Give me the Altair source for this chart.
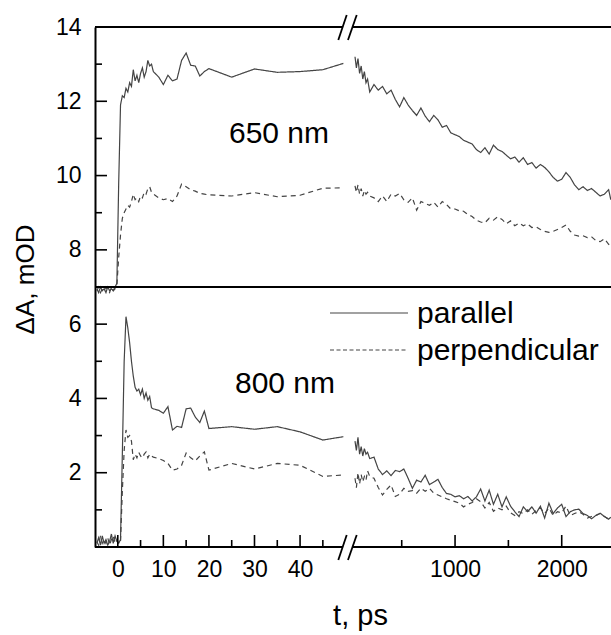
import altair as alt
import pandas as pd

# ---------------- data ----------------
t_left = [-4.6, -4.2, -3.8, -3.4, -3.0, -2.6, -2.2, -1.8, -1.4, -1.0, -0.6, -0.2,
          0.2, 0.6, 1.0, 1.4, 1.8, 2.2, 2.6, 3.0, 3.4, 3.8, 4.2, 4.6, 5.0, 5.4,
          5.8, 6.2, 6.6, 7.0, 7.4, 7.8,
          9, 10, 11, 12, 13, 14, 15, 16, 17, 18, 19, 20,
          25, 30, 35, 40, 45, 49.5]

a650_par_left = [6.95, 6.85, 7.0, 6.9, 6.95, 6.85, 7.0, 6.9, 6.95, 6.9, 7.0, 7.1,
                 9.8, 11.9, 12.15, 12.1, 12.35, 12.25, 12.5, 12.4, 12.85, 12.55, 12.7, 12.5,
                 12.75, 12.9, 12.65, 12.8, 13.1, 12.95, 13.0, 12.8,
                 12.65, 12.45, 12.7, 12.55, 12.6, 13.1, 13.3, 12.97, 12.95, 12.68, 12.8, 12.88,
                 12.65, 12.87, 12.78, 12.8, 12.85, 13.02]
a650_perp_left = [6.9, 7.0, 6.85, 6.95, 6.9, 7.0, 6.9, 6.85, 7.0, 6.9, 6.95, 7.05,
                  7.8, 8.4, 8.85, 9.0, 9.1, 9.2, 9.15, 9.3, 9.5, 9.35, 9.4, 9.3,
                  9.45, 9.4, 9.55, 9.5, 9.65, 9.7, 9.55, 9.5,
                  9.4, 9.35, 9.38, 9.3, 9.45, 9.77, 9.7, 9.62, 9.58, 9.52, 9.5, 9.48,
                  9.45, 9.54, 9.43, 9.47, 9.66, 9.67]
a800_par_left = [0.1, 0.25, 0.05, 0.3, 0.1, 0.2, 0.05, 0.15, 0.35, 0.1, 0.3, 0.15,
                 0.1, 0.2, 2.5, 5.0, 6.2, 5.9, 5.5, 5.0, 4.6, 4.3, 4.2, 4.25,
                 4.1, 4.25, 4.0, 4.15, 3.95, 4.05, 3.75, 3.72,
                 3.68, 3.6, 3.78, 3.15, 3.25, 3.22, 3.72, 3.74, 3.5, 3.35, 3.66, 3.19,
                 3.24, 3.17, 3.24, 3.1, 2.88, 2.97]
a800_perp_left = [0.15, 0.05, 0.3, 0.1, 0.2, 0.1, 0.25, 0.05, 0.2, 0.3, 0.1, 0.2,
                  0.1, 0.15, 1.5, 2.6, 3.15, 2.95, 3.0, 2.85, 2.35, 2.5, 2.4, 2.55,
                  2.45, 2.4, 2.5, 2.56, 2.4, 2.5, 2.45, 2.42,
                  2.38, 2.33, 2.25, 2.07, 2.1, 2.2, 2.53, 2.4, 2.32, 2.45, 2.56, 2.07,
                  2.25, 2.1, 2.25, 2.2, 1.9, 1.94]

t_right = [62, 75, 90, 105, 120, 135, 150, 165, 180,
           200, 240, 280, 320, 360, 400, 440, 480, 520, 560, 600, 640, 680, 720,
           760, 800, 840, 880, 920, 960, 1000, 1040, 1080, 1120, 1160, 1200, 1240,
           1280, 1320, 1360, 1400, 1440, 1480, 1520, 1560, 1600, 1640, 1680, 1720,
           1760, 1800, 1840, 1880, 1920, 1960, 2000, 2040, 2080, 2120, 2160, 2200,
           2240, 2280, 2320, 2360, 2400, 2440, 2460]

a650_par_right = [13.2, 12.9, 13.15, 12.75, 12.95, 12.6, 12.8, 12.5, 12.6,
                  12.25, 12.45, 12.3, 12.4, 12.2, 12.3, 12.05, 11.85, 12.1, 11.9, 11.75, 11.62, 11.82, 11.6,
                  11.45, 11.62, 11.5, 11.3, 11.35, 11.15, 11.1, 11.05, 10.95, 10.9, 10.85, 10.7, 10.62,
                  10.75, 10.58, 10.82, 10.7, 10.65, 10.55, 10.45, 10.5, 10.36, 10.48, 10.3, 10.35,
                  10.2, 10.3, 10.22, 10.1, 9.95, 9.85, 9.9, 10.08, 9.95, 9.75, 9.62, 9.7,
                  9.6, 9.65, 9.55, 9.45, 9.5, 9.62, 9.35]
a650_perp_right = [9.72, 9.55, 9.75, 9.5, 9.65, 9.45, 9.6, 9.5, 9.55,
                   9.45, 9.4, 9.3, 9.45, 9.3, 9.5, 9.45, 9.52, 9.35, 9.28, 9.4, 9.07, 9.3, 9.25,
                   9.2, 9.28, 9.15, 9.3, 9.22, 9.1, 9.1, 9.05, 9.04, 8.95, 8.9, 8.8, 8.75,
                   8.73, 8.85, 8.8, 8.89, 8.82, 8.7, 8.78, 8.65, 8.72, 8.65, 8.7, 8.6,
                   8.62, 8.55, 8.5, 8.47, 8.5, 8.55, 8.6, 8.67, 8.5, 8.4, 8.37, 8.38,
                   8.33, 8.35, 8.25, 8.22, 8.3, 8.15, 8.1]
a800_par_right = [2.85, 2.6, 2.95, 2.5, 2.7, 2.45, 2.65, 2.5, 2.55,
                  2.38, 2.42, 2.1, 1.95, 2.05, 1.92, 2.06, 2.03, 2.1, 1.85, 1.58, 1.8, 1.75, 1.93,
                  1.68, 1.75, 1.82, 1.6, 1.44, 1.42, 1.35, 1.38, 1.3, 1.36, 1.24, 1.35, 1.56,
                  1.24, 1.53, 1.15, 1.42, 1.08, 1.35, 1.1, 0.95, 0.82, 1.08, 0.95, 1.08,
                  0.91, 1.1, 0.78, 1.18, 0.9, 1.05, 1.15, 0.82, 0.95, 1.0, 1.02, 0.9,
                  0.85, 0.76, 0.85, 0.91, 0.82, 0.75, 0.8]
a800_perp_right = [1.85, 1.6, 2.0, 1.7, 1.95, 1.75, 1.9, 1.8, 2.05,
                   1.9, 1.85, 1.6, 1.4, 1.55, 1.67, 1.36, 1.42, 1.58, 1.5, 1.52, 1.45, 1.58, 1.5,
                   1.58, 1.45, 1.4, 1.35, 1.3, 1.26, 1.22, 1.18, 1.08, 1.15, 1.2, 1.3, 1.22,
                   1.05, 1.2, 0.96, 1.05, 1.0, 1.1, 0.92, 0.85, 0.95, 0.9, 1.0, 0.88,
                   0.98, 1.05, 0.9, 1.05, 0.85, 0.95, 0.92, 1.1, 0.85, 0.9, 0.95, 0.88,
                   0.78, 0.82, 0.85, 0.9, 0.82, 0.75, 0.8]

series = [
    ("650", "parallel", "L", t_left, a650_par_left),
    ("650", "perpendicular", "L", t_left, a650_perp_left),
    ("800", "parallel", "L", t_left, a800_par_left),
    ("800", "perpendicular", "L", t_left, a800_perp_left),
    ("650", "parallel", "R", t_right, a650_par_right),
    ("650", "perpendicular", "R", t_right, a650_perp_right),
    ("800", "parallel", "R", t_right, a800_par_right),
    ("800", "perpendicular", "R", t_right, a800_perp_right),
]
rows = []
for wl, pol, seg_, ts, vs in series:
    assert len(ts) == len(vs), (wl, pol, seg_, len(ts), len(vs))
    for t, v in zip(ts, vs):
        rows.append({"t": t, "A": v, "pol": pol, "key": f"{wl}-{pol}-{seg_}"})
df = pd.DataFrame(rows)

x_major = [0, 10, 20, 30, 40, 1000, 2000]
x_minor = [5, 15, 25, 35, 45, 500, 1500]
y_major = [2, 4, 6, 8, 10, 12, 14]
y_minor = [1, 3, 5, 9, 11, 13]

# ---------------- layout ----------------
W, H = 516, 520
FONT = "Liberation Sans"
INK = "#000000"
LINE = "#444444"

# broken time axis: piecewise linear scale (left segment -5..50 ps, right segment up to ~2460 ps)
xscale = alt.Scale(domain=[-5, 50.3, 62, 2462], range=[0, 252, 260, 516], zero=False, nice=False)
yscale = alt.Scale(domain=[0, 14], zero=False, nice=False)

x_axis = alt.Axis(values=x_major, format="d", ticks=False, tickSize=0, domain=False,
                  grid=False, labelPadding=11, labelFontSize=23, labelFont=FONT,
                  labelColor=INK, labelFlush=False, labelOverlap=False,
                  title="t, ps", titleFont=FONT, titleFontSize=29, titleFontWeight="normal",
                  titleColor=INK, titleX=265, titleY=68, titleAlign="center",
                  titleBaseline="middle")
y_axis = alt.Axis(values=y_major, format="d", ticks=False, tickSize=0, domain=True,
                  domainColor=INK, domainWidth=2, grid=False, labelPadding=14,
                  labelFontSize=23, labelFont=FONT, labelColor=INK, labelFlush=False,
                  labelOverlap=False,
                  title="ΔA, mOD", titleFont=FONT, titleFontSize=26,
                  titleFontWeight="normal", titleColor=INK, titleX=-70, titleY=252,
                  titleAngle=270, titleAlign="center", titleBaseline="middle")

dummy = pd.DataFrame({"d": [0]})

lines = alt.Chart(df).mark_line(strokeWidth=1.2, color=LINE, clip=True).encode(
    x=alt.X("t:Q", scale=xscale, axis=x_axis),
    y=alt.Y("A:Q", scale=yscale, axis=y_axis),
    strokeDash=alt.StrokeDash("pol:N",
                              scale=alt.Scale(domain=["parallel", "perpendicular"],
                                              range=[[1, 0], [5, 4]]),
                              legend=None),
    detail="key:N",
)

def tick_x(vals, length):
    return alt.Chart(pd.DataFrame({"t": vals})).mark_rule(color=INK, strokeWidth=1.6).encode(
        x=alt.X("t:Q", scale=xscale, axis=x_axis), y=alt.value(H), y2=alt.value(H - length))

def tick_y(vals, length):
    return alt.Chart(pd.DataFrame({"A": vals})).mark_rule(color=INK, strokeWidth=1.6).encode(
        y=alt.Y("A:Q", scale=yscale, axis=y_axis), x=alt.value(0), x2=alt.value(length))

def seg(x1, y1, x2, y2, w=2.0, color=INK, dash=None):
    kw = dict(color=color, strokeWidth=w)
    if dash is not None:
        kw["strokeDash"] = dash
    return alt.Chart(dummy).mark_rule(**kw).encode(
        x=alt.value(x1), x2=alt.value(x2), y=alt.value(y1), y2=alt.value(y2))

def label(text, x, y, size=30, align="left"):
    return alt.Chart(dummy).mark_text(text=text, font=FONT, fontSize=size, color=INK,
                                      align=align, baseline="alphabetic").encode(
        x=alt.value(x), y=alt.value(y))

divider = alt.Chart(pd.DataFrame({"A": [7]})).mark_rule(color=INK, strokeWidth=2).encode(
    y=alt.Y("A:Q", scale=yscale, axis=y_axis), x=alt.value(0), x2=alt.value(W))

frame = [
    seg(0, 0, 247.5, 0), seg(257.5, 0, W, 0),          # top border with break
    seg(0, H, 247.5, H), seg(257.5, H, W, H),          # bottom axis with break
    seg(243.3, 13, 251.7, -12, w=1.8), seg(253, 13, 261.7, -12, w=1.8),
    seg(243.3, H + 13, 251.7, H - 12, w=1.8), seg(253, H + 13, 261.7, H - 12, w=1.8),
]

legend = [
    seg(235, 286, 313, 286, w=1.2, color=LINE),
    seg(235, 323, 313, 323, w=1.2, color=LINE, dash=[4, 2.5]),
    label("parallel", 322, 296),
    label("perpendicular", 322, 333),
]

annotations = [
    label("650 nm", 184, 116, align="center"),
    label("800 nm", 190, 366, align="center"),
]

chart = alt.layer(
    lines,
    tick_x(x_major, 12), tick_x(x_minor, 7),
    tick_y(y_major, 12), tick_y(y_minor, 7),
    divider,
    *frame, *legend, *annotations,
).properties(
    width=W, height=H,
    padding={"left": 95, "top": 27, "right": 0, "bottom": 88},
    autosize=alt.AutoSizeParams(type="none"),
    background="white",
).configure_view(strokeWidth=0)

chart.save("out.html", embed_options={"renderer": "svg", "actions": False})
